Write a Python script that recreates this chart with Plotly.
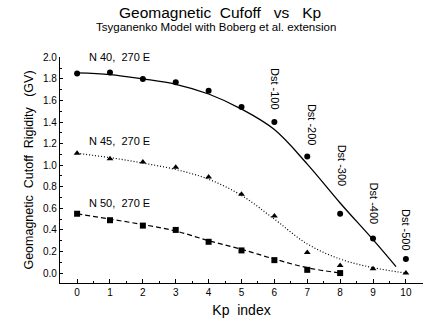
import plotly.graph_objects as go

# Kp index values at which the cutoff rigidity was computed
kp = [0, 1, 2, 3, 4, 5, 6, 7, 8, 9, 10]
kp_n50 = [0, 1, 2, 3, 4, 5, 6, 7, 8]

# Computed cutoff rigidities (GV)
n40_pts = [1.85, 1.86, 1.80, 1.77, 1.69, 1.54, 1.40, 1.08, 0.55, 0.32, 0.13]
n45_pts = [1.11, 1.06, 1.03, 0.98, 0.89, 0.73, 0.53, 0.19, 0.07, 0.04, 0.00]
n50_pts = [0.55, 0.49, 0.44, 0.40, 0.29, 0.21, 0.12, 0.03, 0.00]

# Smooth fitted curves
fit40_kp = [0, 1, 2, 3, 4, 5, 6, 7, 8, 9, 9.7]
fit40 = [1.855, 1.84, 1.80, 1.75, 1.66, 1.52, 1.33, 1.01, 0.65, 0.31, 0.06]
fit45_kp = [0, 1, 2, 3, 4, 5, 6, 7, 8, 9, 10]
fit45 = [1.11, 1.07, 1.02, 0.96, 0.87, 0.72, 0.50, 0.27, 0.13, 0.05, 0.0]
fit50_kp = [0, 1, 2, 3, 4, 5, 6, 7, 8]
fit50 = [0.55, 0.50, 0.45, 0.39, 0.30, 0.22, 0.13, 0.05, 0.0]

# Station labels and Dst labels
station_labels = ["N 40,  270 E", "N 45,  270 E", "N 50,  270 E"]
station_pos = [(1.28, 2.0), (1.28, 1.22), (1.28, 0.646)]
dst_labels = ["Dst -100", "Dst -200", "Dst -300", "Dst -400", "Dst -500"]
dst_pos = [(6.02, 1.706), (7.13, 1.378), (8.06, 0.995), (9.03, 0.644), (10.0, 0.40)]

FONT = "Liberation Sans, Arial, Helvetica, sans-serif"

fig = go.Figure()

fig.add_trace(go.Scatter(x=fit40_kp, y=fit40, mode="lines",
                         line=dict(color="black", width=1.3, shape="spline"),
                         showlegend=False, hoverinfo="skip"))
fig.add_trace(go.Scatter(x=fit45_kp, y=fit45, mode="lines",
                         line=dict(color="black", width=1.2, dash="1px,2px", shape="spline"),
                         showlegend=False, hoverinfo="skip"))
fig.add_trace(go.Scatter(x=fit50_kp, y=fit50, mode="lines",
                         line=dict(color="black", width=1.2, dash="5px,3px", shape="spline"),
                         showlegend=False, hoverinfo="skip"))

fig.add_trace(go.Scatter(x=kp, y=n40_pts, mode="markers",
                         marker=dict(symbol="circle", size=6, color="black"),
                         showlegend=False))
fig.add_trace(go.Scatter(x=kp, y=n45_pts, mode="markers",
                         marker=dict(symbol="triangle-up", size=6, color="black"),
                         showlegend=False))
fig.add_trace(go.Scatter(x=kp_n50, y=n50_pts, mode="markers",
                         marker=dict(symbol="square", size=6, color="black"),
                         showlegend=False))

for text, (x, y) in zip(station_labels, station_pos):
    fig.add_annotation(x=x, y=y, text=text, showarrow=False,
                       font=dict(family=FONT, size=11, color="black"))

for text, (x, y) in zip(dst_labels, dst_pos):
    fig.add_annotation(x=x, y=y, text=text, showarrow=False, textangle=90,
                       font=dict(family=FONT, size=11, color="black"))

# Title and subtitle
fig.add_annotation(xref="paper", yref="paper", x=(220 - 60) / 363, y=(283 - 13) / 226,
                   text="Geomagnetic  Cufoff   vs   Kp", showarrow=False,
                   font=dict(family=FONT, size=15.5, color="black"), yanchor="middle")
fig.add_annotation(xref="paper", yref="paper", x=(216 - 60) / 363, y=(283 - 27) / 226,
                   text="Tsyganenko Model with Boberg et al. extension", showarrow=False,
                   font=dict(family=FONT, size=11.5, color="black"), yanchor="middle")

fig.update_layout(
    template="simple_white",
    width=428, height=329,
    margin=dict(l=60, r=5, t=57, b=46),
    paper_bgcolor="white", plot_bgcolor="white",
    font=dict(family=FONT, color="black"),
    xaxis=dict(range=[-0.52, 10.52], tickmode="linear", tick0=0, dtick=1,
               ticks="inside", ticklen=4, tickwidth=1, tickcolor="black",
               showline=True, linecolor="black", linewidth=1.3,
               showgrid=False, zeroline=False, tickfont=dict(size=10),
               minor=dict(tick0=0, dtick=0.5, ticks="inside", ticklen=2, tickwidth=1,
                          tickcolor="black", showgrid=False),
               title=dict(text="Kp  index", font=dict(size=14), standoff=8)),
    yaxis=dict(range=[-0.092, 2.003], tickmode="linear", tick0=0, dtick=0.2,
               tickformat=".1f", ticks="inside", ticklen=3, tickwidth=1, tickcolor="black",
               showline=True, linecolor="black", linewidth=1.3,
               showgrid=False, zeroline=False, tickfont=dict(size=10),
               minor=dict(tick0=0, dtick=0.1, ticks="inside", ticklen=2, tickwidth=1,
                          tickcolor="black", showgrid=False),
               title=dict(text="Geomagnetic  Cutoff  Rigidity   (GV)", font=dict(size=12.5), standoff=6)),
)

fig.write_html("out.html")
